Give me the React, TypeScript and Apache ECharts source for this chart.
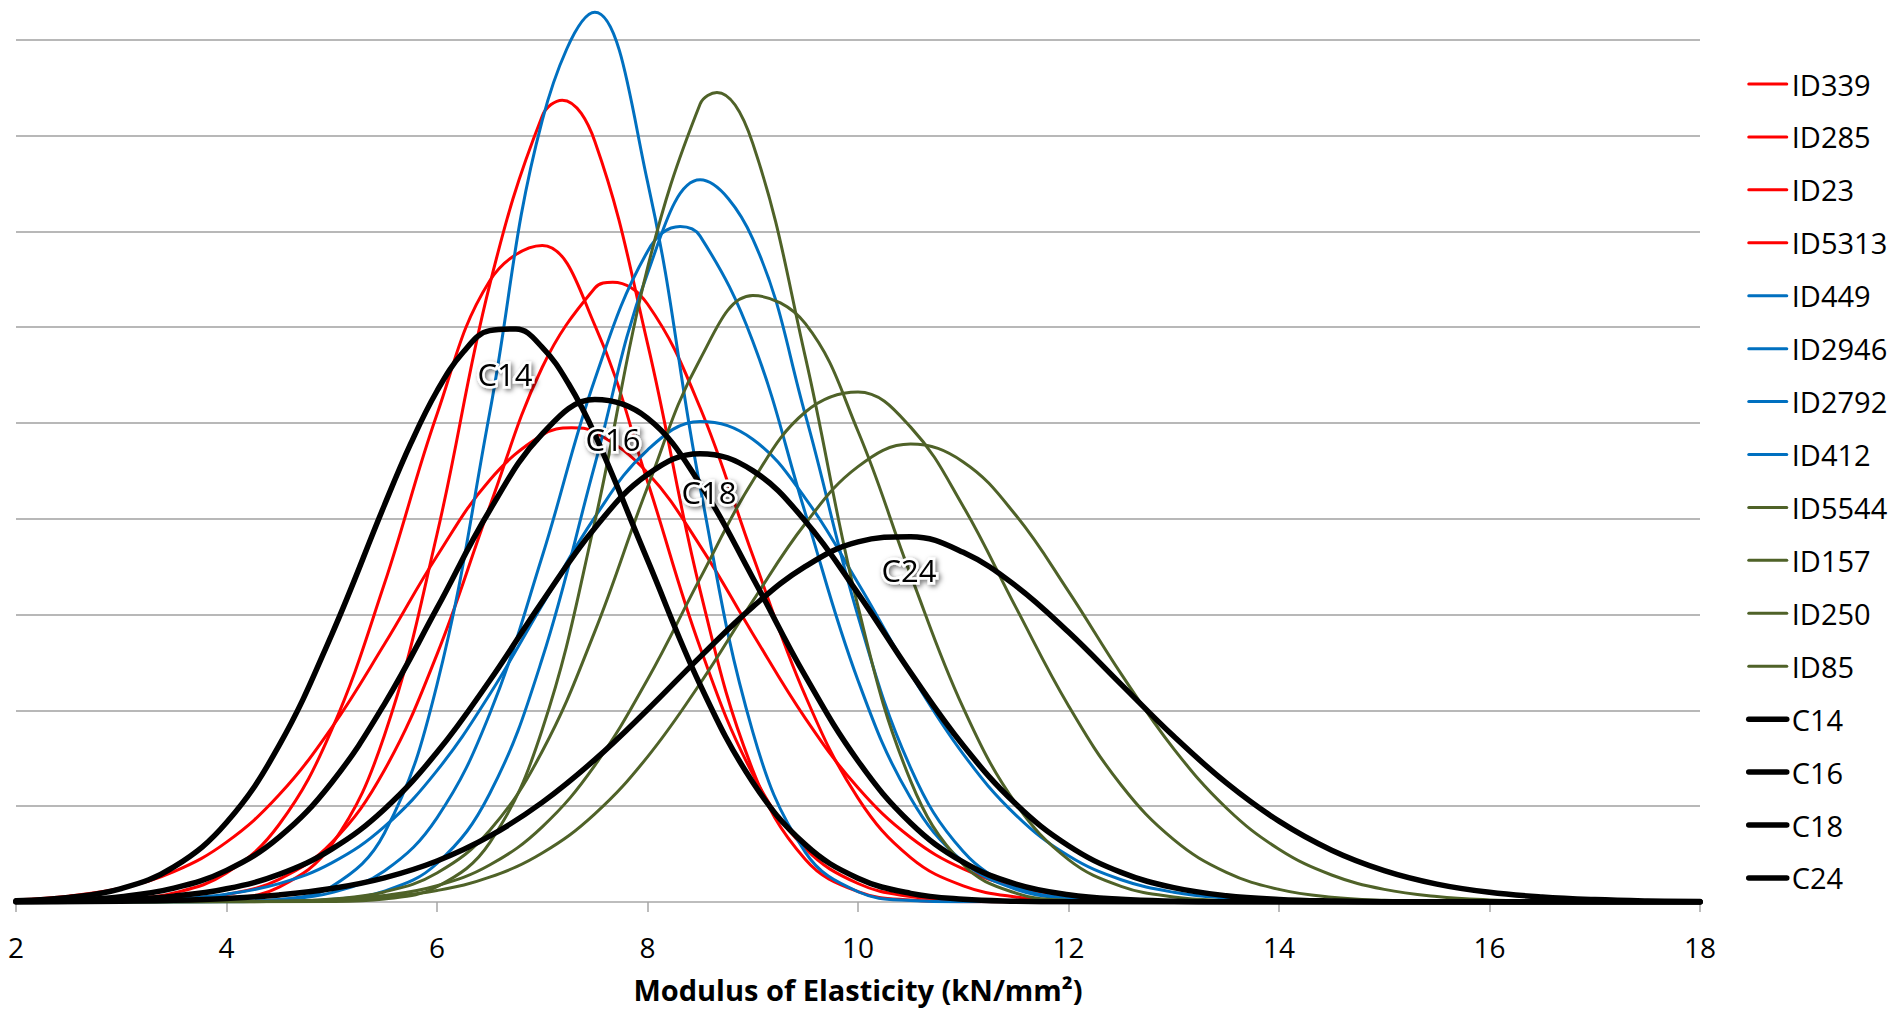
import React, { useEffect, useRef } from "react";
import * as echarts from "echarts";

// ---- data (x = modulus of elasticity kN/mm², y = relative frequency in gridline units) ----
const ID339 = [[2,0],[3.5,0.005],[4,0.031],[4.5,0.156],[5,0.598],[5.5,1.738],[6,3.839],[6.5,6.44],[7,8.205],[7.19,8.37],[7.5,7.939],[8,5.832],[8.5,3.254],[9,1.378],[9.5,0.444],[10,0.108],[10.5,0.02],[11,0.003],[18,0]];
const ID285 = [[2,0],[2.5,0.005],[3,0.024],[3.5,0.094],[4,0.302],[4.5,0.809],[5,1.799],[5.5,3.321],[6,5.092],[6.5,6.483],[7,6.854],[7.5,6.019],[8,4.389],[8.5,2.657],[9,1.336],[9.5,0.558],[10,0.193],[10.5,0.056],[11,0.013],[11.5,0.003],[18,0]];
const ID23 = [[2,0],[3,0.005],[3.5,0.021],[4,0.077],[4.5,0.237],[5,0.62],[5.5,1.375],[6,2.585],[6.5,4.125],[7,5.582],[7.5,6.409],[7.67,6.47],[8,6.242],[8.5,5.159],[9,3.616],[9.5,2.151],[10,1.085],[10.5,0.464],[11,0.169],[11.5,0.052],[12,0.014],[12.5,0.003],[18,0]];
const ID5313 = [[2,0.023],[2.5,0.061],[3,0.146],[3.5,0.317],[4,0.625],[4.5,1.119],[5,1.821],[5.5,2.69],[6,3.612],[6.5,4.403],[7,4.876],[7.28,4.95],[7.5,4.904],[8,4.48],[8.5,3.718],[9,2.801],[9.5,1.917],[10,1.192],[10.5,0.673],[11,0.345],[11.5,0.161],[12,0.068],[12.5,0.026],[13,0.009],[13.5,0.003],[18,0]];
const ID449 = [[2,0],[4,0.003],[4.5,0.026],[5,0.162],[5.5,0.718],[6,2.269],[6.5,5.102],[7,8.16],[7.5,9.287],[8,7.52],[8.5,4.333],[9,1.776],[9.5,0.518],[10,0.107],[10.5,0.016],[11,0.002],[18,0]];
const ID2946 = [[2,0],[4.5,0.005],[5,0.026],[5.5,0.114],[6,0.402],[6.5,1.13],[7,2.541],[7.5,4.566],[8,6.562],[8.5,7.538],[9,6.923],[9.5,5.084],[10,2.985],[10.5,1.401],[11,0.526],[11.5,0.158],[12,0.038],[12.5,0.007],[13,0.001],[18,0]];
const ID2792 = [[2,0],[4,0.005],[4.5,0.024],[5,0.098],[5.5,0.324],[6,0.879],[6.5,1.963],[7,3.609],[7.5,5.457],[8,6.791],[8.31,7.05],[8.5,6.951],[9,5.854],[9.5,4.057],[10,2.313],[10.5,1.085],[11,0.419],[11.5,0.133],[12,0.035],[12.5,0.007],[13,0.001],[18,0]];
const ID412 = [[2,0],[2.5,0.003],[3,0.011],[3.5,0.032],[4,0.082],[4.5,0.192],[5,0.408],[5.5,0.786],[6,1.371],[6.5,2.166],[7,3.1],[7.5,4.018],[8,4.718],[8.5,5.016],[9,4.831],[9.5,4.214],[10,3.33],[10.5,2.382],[11,1.544],[11.5,0.907],[12,0.482],[12.5,0.232],[13,0.101],[13.5,0.04],[14,0.014],[14.5,0.005],[18,0]];
const ID5544 = [[2,0],[5,0.005],[5.5,0.031],[6,0.159],[6.5,0.617],[7,1.8],[7.5,3.972],[8,6.618],[8.5,8.33],[8.66,8.45],[9,7.919],[9.5,5.688],[10,3.085],[10.5,1.264],[11,0.391],[11.5,0.092],[12,0.016],[12.5,0.002],[18,0]];
const ID157 = [[2,0],[4.5,0.008],[5,0.031],[5.5,0.105],[6,0.303],[6.5,0.747],[7,1.573],[7.5,2.825],[8,4.33],[8.5,5.666],[9,6.33],[9.5,6.037],[10,4.914],[10.5,3.415],[11,2.026],[11.5,1.026],[12,0.443],[12.5,0.164],[13,0.052],[13.5,0.014],[14,0.003],[18,0]];
const ID250 = [[2,0],[4,0.002],[4.5,0.007],[5,0.024],[5.5,0.067],[6,0.17],[6.5,0.386],[7,0.785],[7.5,1.427],[8,2.322],[8.5,3.378],[9,4.395],[9.5,5.115],[10,5.324],[10.5,4.957],[11,4.129],[11.5,3.075],[12,2.049],[12.5,1.221],[13,0.651],[13.5,0.31],[14,0.132],[14.5,0.05],[15,0.017],[15.5,0.005],[18,0]];
const ID85 = [[2,0],[4,0.002],[4.5,0.007],[5,0.02],[5.5,0.051],[6,0.12],[6.5,0.259],[7,0.511],[7.5,0.92],[8,1.515],[8.5,2.281],[9,3.14],[9.5,3.951],[10,4.545],[10.5,4.78],[11,4.594],[11.5,4.037],[12,3.243],[12.5,2.382],[13,1.599],[13.5,0.981],[14,0.551],[14.5,0.282],[15,0.132],[15.5,0.057],[16,0.022],[16.5,0.008],[17,0.003],[18,0]];
const C14 = [[2,0.013],[2.5,0.047],[3,0.14],[3.5,0.366],[4,0.83],[4.5,1.634],[5,2.792],[5.5,4.142],[5.75,4.784],[6,5.334],[6.25,5.741],[6.5,5.964],[6.75,5.981],[7,5.79],[7.25,5.41],[7.5,4.88],[8,3.571],[8.5,2.268],[9,1.251],[9.5,0.599],[10,0.249],[10.5,0.09],[11,0.028],[11.5,0.008],[12,0.002],[18,0]];
const C16 = [[2,0.006],[2.5,0.02],[3,0.056],[3.5,0.144],[4,0.33],[4.5,0.677],[5,1.248],[5.5,2.066],[6,3.067],[6.5,4.087],[7,4.886],[7.5,5.244],[8,5.05],[8.5,4.364],[9,3.385],[9.5,2.357],[10,1.472],[10.5,0.825],[11,0.415],[11.5,0.187],[12,0.076],[12.5,0.028],[13,0.009],[13.5,0.003],[18,0]];
const C18 = [[2,0.003],[2.5,0.009],[3,0.024],[3.5,0.061],[4,0.138],[4.5,0.288],[5,0.552],[5.5,0.969],[6,1.562],[6.5,2.31],[7,3.136],[7.5,3.905],[8,4.462],[8.5,4.68],[9,4.503],[9.5,3.975],[10,3.221],[10.5,2.394],[11,1.633],[11.5,1.022],[12,0.587],[12.5,0.309],[13,0.15],[13.5,0.066],[14,0.027],[14.5,0.01],[15,0.003],[18,0]];
const C24 = [[2,0.001],[2.5,0.003],[3,0.008],[3.5,0.017],[4,0.037],[4.5,0.074],[5,0.14],[5.5,0.252],[6,0.428],[6.5,0.687],[7,1.04],[7.5,1.486],[8,2.007],[8.5,2.559],[9,3.081],[9.5,3.503],[10,3.76],[10.5,3.813],[11,3.65],[11.5,3.3],[12,2.818],[12.5,2.272],[13,1.729],[13.5,1.243],[14,0.844],[14.5,0.541],[15,0.328],[15.5,0.187],[16,0.101],[16.5,0.052],[17,0.025],[17.5,0.011],[18,0.005]];

const redNames = ["ID339", "ID285", "ID23", "ID5313"];
const blueNames = ["ID449", "ID2946", "ID2792", "ID412"];
const greenNames = ["ID5544", "ID157", "ID250", "ID85"];
const classNames = ["C14", "C16", "C18", "C24"];

const seriesData: Record<string, number[][]> = {
  ID339, ID285, ID23, ID5313, ID449, ID2946, ID2792, ID412,
  ID5544, ID157, ID250, ID85, C14, C16, C18, C24,
};

// label anchor points (data coordinates) for the strength-class curves
const classLabelX = [6.646, 7.672, 8.584, 10.485];
const classLabelY = [5.513, 4.834, 4.281, 3.466];

const xMin = 2;
const xMax = 18;
const xStep = 2;
const xAxisTitle = "Modulus of Elasticity (kN/mm²)";

const RED = "#FF0000";
const BLUE = "#0070C0";
const GREEN = "#4F6228";
const BLACK = "#000000";
const FONT = '"Open Sans", "DejaVu Sans", sans-serif';

export default function App() {
  const ref = useRef<HTMLDivElement>(null);

  useEffect(() => {
    document.body.style.margin = "0";
    const chart = echarts.init(ref.current as HTMLDivElement, null, { renderer: "svg" });

    const groups: [string[], string, number][] = [
      [redNames, RED, 3],
      [blueNames, BLUE, 3],
      [greenNames, GREEN, 3],
      [classNames, BLACK, 5.5],
    ];

    const series: any[] = [];
    groups.forEach(([names, color, width]) => {
      names.forEach((name) => {
        const isClass = color === BLACK;
        const s: any = {
          name,
          type: "line",
          data: seriesData[name],
          smooth: 0.4,
          showSymbol: false,
          symbol: "none",
          silent: true,
          z: isClass ? 4 : 3,
          lineStyle: { color, width, cap: "round", join: "round" },
          itemStyle: { color },
          emphasis: { disabled: true },
        };
        if (isClass) {
          const i = classNames.indexOf(name);
          s.markPoint = {
            symbol: "circle",
            symbolSize: 1,
            silent: true,
            itemStyle: { color: "rgba(0,0,0,0)" },
            data: [{ coord: [classLabelX[i], classLabelY[i]], value: name }],
            label: {
              show: true,
              position: "inside",
              formatter: name,
              fontFamily: FONT,
              fontSize: 31,
              color: "#000",
              textBorderColor: "#ffffff",
              textBorderWidth: 5,
              textShadowColor: "rgba(0,0,0,0.55)",
              textShadowBlur: 5,
              textShadowOffsetX: 2,
              textShadowOffsetY: 2,
            },
          };
        }
        series.push(s);
      });
    });

    const legendData = [...redNames, ...blueNames, ...greenNames, ...classNames].map((n) =>
      classNames.includes(n)
        ? { name: n, lineStyle: { width: 5.5, cap: "round" } }
        : { name: n, lineStyle: { width: 3 } }
    );

    chart.setOption({
      animation: false,
      grid: {
        left: 16,
        right: 193,
        top: -56,
        bottom: 109,
        containLabel: false,
        outerBoundsMode: "none",
      },
      xAxis: {
        type: "value",
        min: xMin,
        max: xMax,
        interval: xStep,
        name: xAxisTitle,
        nameLocation: "middle",
        nameGap: 72,
        nameTextStyle: {
          fontFamily: FONT,
          fontSize: 29,
          lineHeight: 30,
          fontWeight: "bold",
          color: "#000",
        },
        axisLine: { show: true, onZero: false, lineStyle: { color: "#BFBFBF", width: 1.5 } },
        axisTick: { show: true, length: 10, lineStyle: { color: "#A6A6A6", width: 1.5 } },
        axisLabel: { fontFamily: FONT, fontSize: 28, color: "#000", margin: 31 },
        splitLine: { show: false },
      },
      yAxis: {
        type: "value",
        min: 0,
        max: 10,
        interval: 1,
        axisLine: { show: false },
        axisTick: { show: false },
        axisLabel: { show: false },
        splitLine: { show: true, lineStyle: { color: "#A0A0A0", width: 1.5 } },
      },
      legend: {
        orient: "vertical",
        left: 1746,
        top: 69,
        padding: 0,
        itemWidth: 38,
        itemHeight: 30,
        itemGap: 22.93,
        selectedMode: false,
        itemStyle: { opacity: 0 },
        lineStyle: { width: 3 },
        textStyle: { fontFamily: FONT, fontSize: 29, color: "#000", lineHeight: 30 },
        data: legendData,
      },
      series,
    });

    return () => chart.dispose();
  }, []);

  return <div ref={ref} style={{ width: 1893, height: 1011 }} />;
}
